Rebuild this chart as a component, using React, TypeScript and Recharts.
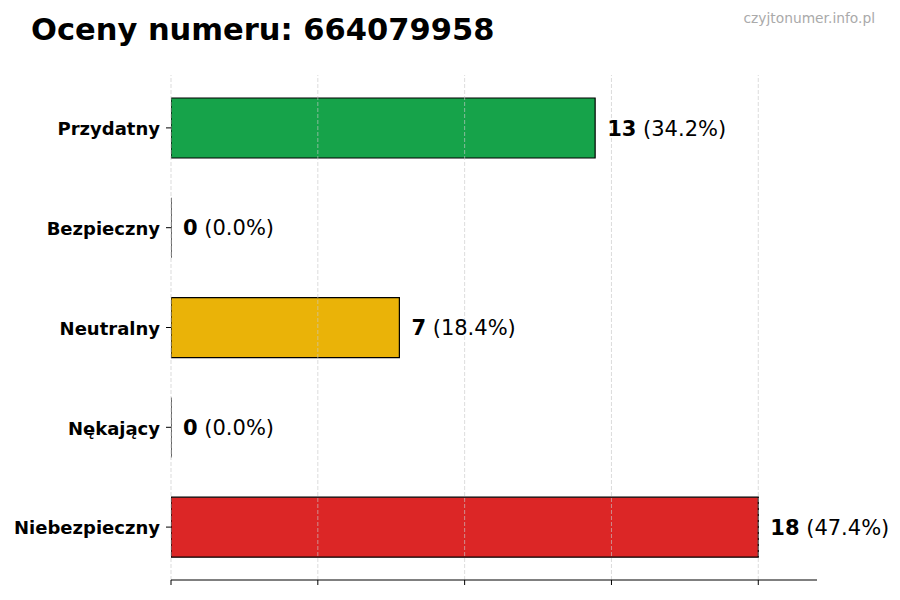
import React from 'react';
import { BarChart, Bar, XAxis, YAxis, Cell, LabelList, ReferenceLine } from 'recharts';

const categories = ['Przydatny', 'Bezpieczny', 'Neutralny', 'Nękający', 'Niebezpieczny'];
const counts = [13, 0, 7, 0, 18];
const percents = ['34.2%', '0.0%', '18.4%', '0.0%', '47.4%'];
const colors = ['#16a34a', '#9ca3af', '#eab308', '#f97316', '#dc2626'];
const xTicks = [0, 4.5, 9, 13.5, 18];
const xMax = 19.8;

const data = categories.map((name, i) => ({ name, value: counts[i], pct: percents[i], color: colors[i] }));

const FONT = '"DejaVu Sans", sans-serif';

const BarShape = (props: any) => {
  const { x, y, width, height, fill } = props;
  const w = Math.max(0, width || 0);
  const d = `M${x},${y} L${x + w},${y} L${x + w},${y + height} L${x},${y + height} Z`;
  return <path d={d} fill={fill} stroke="#000" strokeWidth={1.2} />;
};

const ValueLabel = (props: any) => {
  const { x, y, width, height, index } = props;
  const d = data[index];
  return (
    <text x={x + width + 12} y={y + height / 2 + 0.5} dominantBaseline="central" fontFamily={FONT} fontSize={21} fill="#000">
      <tspan fontWeight="bold">{d.value}</tspan>
      <tspan> ({d.pct})</tspan>
    </text>
  );
};

export default function App() {
  return (
    <div style={{ position: 'absolute', left: 0, top: 0, width: 900, height: 600, background: '#fff', fontFamily: FONT }}>
      <BarChart
        width={900}
        height={600}
        data={data}
        layout="vertical"
        margin={{ top: 75, right: 83, bottom: 0, left: 0 }}
      >
        <XAxis
          type="number"
          domain={[0, xMax]}
          ticks={xTicks}
          tickFormatter={() => ''}
          tickSize={5}
          height={20}
          axisLine={{ stroke: '#000', strokeWidth: 1 }}
          tickLine={{ stroke: '#000', strokeWidth: 1 }}
          allowDataOverflow
        />
        <YAxis
          type="category"
          dataKey="name"
          width={171}
          axisLine={false}
          tickSize={5}
          tickMargin={6}
          tickLine={{ stroke: '#000', strokeWidth: 1 }}
          padding={{ top: 3, bottom: 3 }}
          tick={{ fill: '#000', fontSize: 18, fontWeight: 'bold', fontFamily: FONT, dy: 1 }}
        />
        <Bar dataKey="value" barSize={60} isAnimationActive={false} shape={<BarShape />}>
          {data.map((d, i) => (
            <Cell key={i} fill={d.color} />
          ))}
          <LabelList dataKey="value" content={<ValueLabel />} />
        </Bar>
        {xTicks.map((t) => (
          <ReferenceLine key={t} x={t} stroke="#c8c8c8" strokeDasharray="4 2" strokeWidth={0.8} strokeOpacity={0.8} />
        ))}
      </BarChart>
      <div style={{ position: 'absolute', left: 31, top: 14.6, fontSize: 30.5, lineHeight: '30px', fontWeight: 'bold', color: '#000', whiteSpace: 'nowrap' }}>
        Oceny numeru: 664079958
      </div>
      <div style={{ position: 'absolute', right: 25, top: 11.5, fontSize: 13.8, lineHeight: '13px', color: '#aaaaaa', whiteSpace: 'nowrap' }}>
        czyjtonumer.info.pl
      </div>
    </div>
  );
}
